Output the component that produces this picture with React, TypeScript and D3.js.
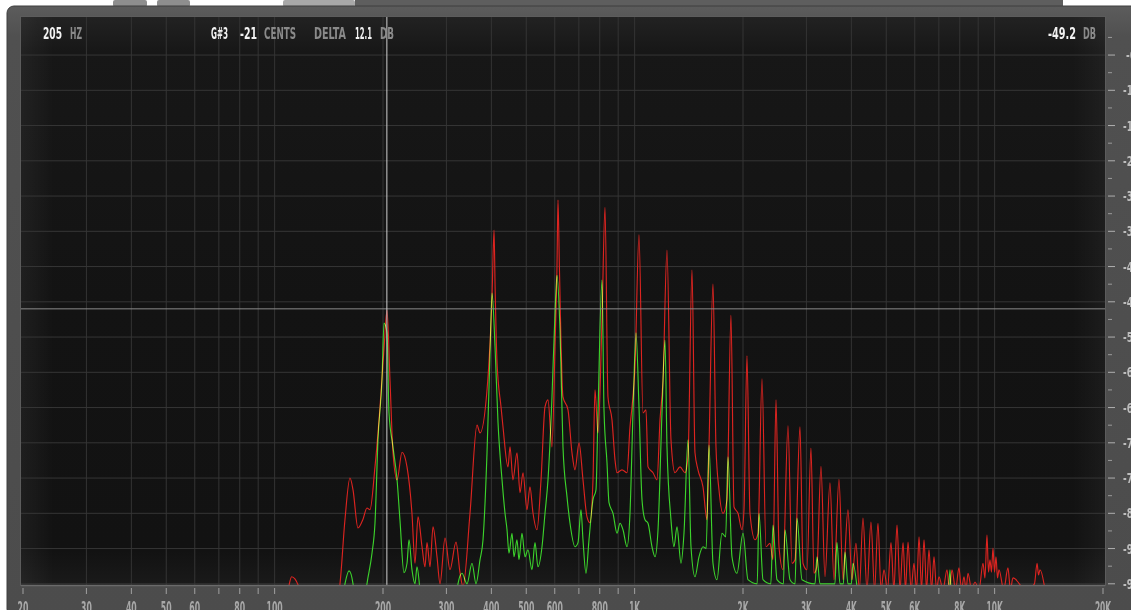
import React from "react";
import * as d3 from "d3";

// ---- data (frequency in Hz, level in dB) ----
const X_TICKS: number[] = [20, 30, 40, 50, 60, 70, 80, 90, 100, 200, 300, 400, 500, 600, 700, 800, 900, 1000, 2000, 3000, 4000, 5000, 6000, 7000, 8000, 9000, 10000, 20000];
const X_LABELS: [number, string][] = [
  [20, "20"], [30, "30"], [40, "40"], [50, "50"], [60, "60"], [80, "80"], [100, "100"],
  [200, "200"], [300, "300"], [400, "400"], [500, "500"], [600, "600"], [800, "800"],
  [1000, "1K"], [2000, "2K"], [3000, "3K"], [4000, "4K"], [5000, "5K"], [6000, "6K"],
  [8000, "8K"], [10000, "10K"], [20000, "20K"],
];
const GRID_FREQS: number[] = [30, 40, 50, 60, 70, 80, 90, 100, 200, 300, 400, 500, 600, 700, 800, 900, 1000, 2000, 3000, 4000, 5000, 6000, 7000, 8000, 9000, 10000];
const DB_MAJOR: number[] = [-6, -12, -18, -24, -30, -36, -42, -48, -54, -60, -66, -72, -78, -84, -90, -96];
const DB_MINOR: number[] = [-3, -9, -15, -21, -27, -33, -39, -45, -51, -57, -63, -69, -75, -81, -87, -93];

const CURSOR_HZ = 205;
const CURSOR_DB = -49.2;

// readout words: [text, x, width, bright]
const READOUT: [string, number, number, boolean][] = [
  ["205", 43, 19, true], ["HZ", 70, 12, false],
  ["G#3", 211, 17, true], ["-21", 240, 17, true], ["CENTS", 264, 32, false],
  ["DELTA", 314, 32, false], ["12.1", 355, 17, true], ["DB", 380, 14, false],
  ["-49.2", 1048, 28, true], ["DB", 1083, 13, false],
];

const RED: [number, number][] = [
  [20, -100], [104, -100], [108.9, -97], [111.5, -94.8], [114, -95.2], [117.6, -97], [122, -100],
  [148, -100], [151.9, -96], [156.8, -85.1], [161.9, -78], [165.1, -80], [170.4, -86.5], [176, -85],
  [180.5, -83.1], [184, -83.4], [190, -76.1], [196.2, -65.9], [201.3, -56], [205.2, -49.4], [209.2, -61.5],
  [213.2, -73.7], [218.8, -78.3], [225.9, -73.6], [233.2, -76.1], [240.7, -84], [245.4, -92.5], [250.2, -84.6],
  [256.7, -89.7], [261.6, -93.1], [265, -89], [270.2, -93.1], [275.4, -86.3], [282.5, -91.4], [288, -96],
  [297.4, -88.2], [307, -93.6], [319, -88.9], [327.3, -94.1], [333.6, -96.5], [348.9, -84], [364.9, -69],
  [372, -70.3], [389, -63], [401.7, -47], [406.9, -35.8], [409.5, -45], [414.8, -58.4], [425.5, -65.9],
  [430.9, -69.3], [444.9, -76.1], [450.6, -72.7], [459.3, -78.3], [471.2, -73.7], [480.4, -80.5],
  [489.7, -77.1], [502.3, -83.4], [512, -79.5], [521.9, -83.9], [535.5, -86.8], [549.5, -78.3],
  [563.7, -65.9], [574.6, -64.7], [589.4, -72.7], [600.9, -55.7], [608.6, -42], [612.5, -30.7], [618, -42],
  [632.4, -64.2], [653, -66.4], [669.9, -73.7], [683, -76.6], [700.7, -72], [718.7, -78.3], [737.4, -84.6],
  [751.6, -85.6], [766.2, -78.3], [776, -63], [791.1, -70.3], [811.6, -51.1], [827.4, -31.9], [843.3, -64.2],
  [865.2, -68.1], [882, -74.9], [893.4, -77.1], [922.4, -76.6], [952.3, -77.1], [970.8, -69.3], [983.3, -65.9],
  [1002.3, -59.1], [1028.3, -36.6], [1055, -66.9], [1075.4, -66.4], [1089.3, -76.1], [1124.8, -77.1],
  [1153.9, -78.3], [1176.3, -68.1], [1199, -61.3], [1230, -39.2], [1261.8, -71.5], [1294.4, -77.1],
  [1336.6, -76.1], [1380.1, -77.1], [1406.9, -74.4], [1443.3, -42.6], [1471.2, -73.7], [1499.7, -76.6],
  [1548.4, -79.5], [1588.5, -85.1], [1609, -72.7], [1650.6, -45], [1682.6, -72.7], [1715.1, -80],
  [1759.5, -84], [1805.2, -81.7], [1851.9, -50.3], [1888, -82.9], [1936.8, -84], [1987, -86.8],
  [2012.8, -83.4], [2051.6, -57.2], [2091.3, -84], [2159.6, -88.5], [2201.5, -87.4], [2258.5, -61.1],
  [2317, -89.7], [2376.9, -89.1], [2423, -91.9], [2470.1, -64.7], [2517.8, -89.7], [2583, -93.6],
  [2666.8, -69.1], [2735.7, -92.5], [2788.9, -91.9], [2879.5, -69.3], [2935.4, -92.5], [3011.3, -93.6],
  [3089.3, -72.9], [3149, -94.2], [3210, -93], [3293.1, -76], [3378.4, -94.8], [3488.3, -78.8],
  [3578.6, -95.3], [3695.2, -78.2], [3790.7, -95.3], [3914, -83.4], [4015.4, -95.3], [4119.3, -89.1],
  [4210, -97], [4308, -84.8], [4420, -97], [4534, -85.5], [4640, -97], [4742, -85.7], [4835, -97],
  [4928, -93.6], [5040, -97], [5154, -89], [5250, -97], [5356, -86], [5460, -97], [5567, -89], [5655, -97],
  [5747, -88.9], [5860, -97], [5970, -92.5], [6070, -97], [6166, -88], [6265, -97], [6366, -88.5],
  [6470, -97], [6572, -90.2], [6680, -97], [6786, -91.4], [6895, -97], [7006, -94.8], [7190, -97],
  [7374, -93.6], [7490, -97], [7613, -93.6], [7790, -97], [7961, -93.3], [8090, -97], [8221, -94.8],
  [8330, -97], [8434, -94.2], [8630, -97], [8820, -95.7], [9050, -97], [9283, -92.5], [9400, -95],
  [9523, -87.7], [9615, -94], [9707, -91.9], [9800, -94], [9896, -89.9], [9990, -94], [10088, -91.4],
  [10185, -95], [10283, -93.6], [10600, -97], [10891, -93.3], [11060, -97], [11246, -95], [12200, -97],
  [12900, -96], [13118, -92.5], [13240, -94.5], [13366, -93.6], [13714, -96], [14000, -100], [20000, -100],
];

const GREEN: [number, number][] = [
  [20, -100], [153, -100], [156.8, -96], [160.9, -93.8], [165.1, -96], [168, -100], [177, -100],
  [180.5, -96], [186.4, -90.8], [190, -85.7], [193.7, -71.5], [198.7, -61.3], [201.3, -51.6], [205.2, -53.3],
  [207.8, -66.9], [213.2, -72.7], [218.8, -78.3], [222.9, -85.1], [228.7, -94.1], [233.2, -92.5],
  [236.2, -88.5], [240.7, -93.6], [245.4, -96], [248.6, -93.1], [253.4, -97], [257, -100],
  [318, -100], [323.1, -96], [331.5, -94.2], [342.3, -96], [353.4, -92.5], [362.6, -96], [372, -91.9],
  [379.2, -88.5], [389, -73.7], [396.6, -56.7], [401.7, -46.5], [409.5, -55.7], [417.4, -68.6],
  [428.2, -78.3], [436.5, -84], [442.1, -86.8], [447.7, -90.8], [456.4, -87.4], [462.3, -91.4],
  [471.2, -88.5], [477.3, -91.9], [486.5, -87.4], [496, -91.4], [505.5, -90.2], [518.6, -93.6],
  [528.7, -89], [538.9, -93.1], [553, -89.7], [563.7, -84], [574.6, -78.3], [589.4, -64.2], [600.9, -49.9],
  [608.6, -43.5], [620.4, -52.8], [632.4, -72.7], [648.9, -81.2], [661.5, -85.7], [683, -89.7],
  [696.2, -89], [709.6, -83.4], [718.7, -88.5], [732.6, -94.2], [746.9, -88.5], [766.2, -81.7],
  [781, -80], [791.1, -66.9], [811.6, -44.3], [822.1, -66.4], [838, -75.4], [848.8, -82.2], [870.8, -84],
  [893.4, -87.4], [910.7, -85.7], [928.3, -86.8], [952.3, -89.7], [970.8, -84], [989.6, -66.9],
  [1008.8, -53.3], [1028.3, -65.9], [1048.3, -81.7], [1068.6, -85.1], [1089.3, -85.7], [1117.6, -89.7],
  [1139.3, -91.4], [1161.4, -86.8], [1191.3, -66.9], [1214.4, -54.5], [1230, -72.7], [1261.8, -85.1],
  [1286.2, -89.7], [1311.2, -86.3], [1345.2, -92.5], [1371.2, -87.4], [1406.9, -71.5], [1434.1, -89.7],
  [1471.2, -94.8], [1509.3, -91.4], [1548.4, -89.7], [1580, -90], [1609, -72.4], [1650.6, -92.5],
  [1693.4, -95.3], [1748.3, -87.4], [1790, -88], [1816.7, -74.4], [1863.7, -91.4], [1924.4, -94.2],
  [2000, -87.4], [2064.8, -95.3], [2190, -96], [2215.5, -84], [2273, -95.3], [2390, -96], [2423, -86],
  [2485.9, -95.3], [2590, -96], [2616.3, -86.8], [2701.2, -95.3], [2790, -96], [2824.8, -84.8],
  [2916.6, -95.3], [3170, -96], [3210.1, -91.4], [3272.1, -96], [3600, -96], [3648, -89], [3718.8, -96],
  [3800, -96], [3839.7, -90.6], [3914, -96], [4000, -96], [4041.2, -92.5], [4145.9, -96.5], [4200, -100],
  [7400, -100], [7516, -93.6], [7600, -100], [20000, -100],
];

const W = 1131;
const H = 610;
const PL = 21, PR = 1105, PT = 17, PB = 585;

const FONT = "'DejaVu Sans Condensed', 'Liberation Sans', sans-serif";

export default function App() {
  const x = d3.scaleLog().domain([20, 20000]).range([23, 1103]);
  const y = d3.scaleLinear().domain([0, -96]).range([19.8, 583.8]);
  const line = d3
    .line<[number, number]>()
    .x((d) => x(d[0]))
    .y((d) => y(d[1]))
    .curve(d3.curveMonotoneX);

  const cx = x(CURSOR_HZ);
  const cy = y(CURSOR_DB);

  return (
    <svg
      width={W}
      height={H}
      style={{ position: "fixed", left: 0, top: 0, display: "block", background: "#ffffff" }}
    >
      <defs>
        <linearGradient id="frameGrad" x1="0" y1="0" x2="0" y2="1">
          <stop offset="0" stopColor="#5c5c5c" />
          <stop offset="0.05" stopColor="#505050" />
          <stop offset="1" stopColor="#4c4c4c" />
        </linearGradient>
        <linearGradient id="plotV" x1="0" y1="0" x2="0" y2="1">
          <stop offset="0" stopColor="#222222" />
          <stop offset="0.06" stopColor="#171717" />
          <stop offset="0.5" stopColor="#131313" />
          <stop offset="0.94" stopColor="#121212" />
          <stop offset="1" stopColor="#1a1a1a" />
        </linearGradient>
        <linearGradient id="plotH" x1="0" y1="0" x2="1" y2="0">
          <stop offset="0" stopColor="#ffffff" stopOpacity="0.05" />
          <stop offset="0.03" stopColor="#ffffff" stopOpacity="0" />
          <stop offset="0.97" stopColor="#ffffff" stopOpacity="0" />
          <stop offset="1" stopColor="#ffffff" stopOpacity="0.04" />
        </linearGradient>
        <clipPath id="plotClip">
          <rect x={PL} y={PT} width={PR - PL} height={PB - PT} />
        </clipPath>
      </defs>

      {/* top strip tabs */}
      <rect x={355} y={0} width={708} height={8} fill="#5e5e5e" />
      <rect x={113} y={0} width={34} height={7} rx={2} fill="#8e8e8e" />
      <rect x={157} y={0} width={33} height={7} rx={2} fill="#8e8e8e" />
      <rect x={283} y={0} width={72} height={7} rx={2} fill="#a8a8a8" />

      {/* frame */}
      <rect x={7} y={6} width={W} height={H} rx={7} fill="url(#frameGrad)" stroke="#3e3e3e" strokeWidth={1} />

      {/* plot background */}
      <rect x={PL} y={PT} width={PR - PL} height={PB - PT} fill="url(#plotV)" />
      <rect x={PL} y={PT} width={PR - PL} height={PB - PT} fill="url(#plotH)" />

      <g clipPath="url(#plotClip)">
        {/* grid */}
        {GRID_FREQS.map((f) => (
          <line key={"gv" + f} x1={x(f)} x2={x(f)} y1={PT} y2={PB} stroke="#343434" strokeWidth={1} />
        ))}
        {DB_MAJOR.map((d) => (
          <line key={"gh" + d} x1={PL} x2={PR} y1={y(d)} y2={y(d)} stroke="#363636" strokeWidth={1} />
        ))}

        {/* spectra */}
        <g style={{ isolation: "isolate" }}>
          <path d={line(RED) || ""} fill="none" stroke="#dc2420" strokeWidth={1.15} style={{ mixBlendMode: "screen" }} />
          <path d={line(GREEN) || ""} fill="none" stroke="#3cd22c" strokeWidth={1.15} style={{ mixBlendMode: "screen" }} />
        </g>

        {/* cursor */}
        <line x1={PL} x2={PR} y1={cy} y2={cy} stroke="#8c8c8c" strokeWidth={1} />
        <line x1={cx} x2={cx} y1={PT} y2={PB} stroke="#cfcfcf" strokeWidth={1} />
      </g>

      {/* plot border */}
      <rect x={PL - 0.5} y={PT - 0.5} width={PR - PL + 1} height={PB - PT + 1} fill="none" stroke="#5c5c5c" strokeWidth={1} />
      <line x1={PL} x2={PR} y1={PB + 0.5} y2={PB + 0.5} stroke="#6a6a6a" strokeWidth={1.5} />

      {/* readouts */}
      <g fontFamily={FONT} fontWeight="bold" fontSize={15}>
        {READOUT.map(([s, tx, w, bright], i) => (
          <text
            key={"ro" + i}
            x={tx}
            y={39}
            textLength={w}
            lengthAdjust="spacingAndGlyphs"
            fill={bright ? "#f2f2f2" : "#8a8a8a"}
          >
            {s}
          </text>
        ))}
      </g>

      {/* bottom axis */}
      {X_TICKS.map((f) => (
        <line key={"bt" + f} x1={x(f)} x2={x(f)} y1={588} y2={594} stroke="#a0a0a0" strokeWidth={1} />
      ))}
      {X_LABELS.map(([f, s]) => {
        const w = s.length * 5.4;
        return (
          <text
            key={"bl" + f}
            x={x(f) - w / 2}
            y={614}
            textLength={w}
            lengthAdjust="spacingAndGlyphs"
            fontFamily={FONT}
            fontWeight="bold"
            fontSize={17}
            fill="#a8a8a8"
          >
            {s}
          </text>
        );
      })}

      {/* right axis */}
      {DB_MAJOR.map((d) => (
        <line key={"rt" + d} x1={1108} x2={1115} y1={y(d)} y2={y(d)} stroke="#b0b0b0" strokeWidth={1} />
      ))}
      {DB_MINOR.map((d) => (
        <line key={"rm" + d} x1={1108} x2={1112} y1={y(d)} y2={y(d)} stroke="#9a9a9a" strokeWidth={1} />
      ))}
      {DB_MAJOR.map((d) => {
        const s = String(d);
        const w = s.length === 2 ? 10 : 16;
        return (
          <text
            key={"rl" + d}
            x={1131 - w / 2}
            y={y(d) + 5}
            textLength={w}
            lengthAdjust="spacingAndGlyphs"
            fontFamily={FONT}
            fontWeight="bold"
            fontSize={14}
            fill="#bdbdbd"
          >
            {s}
          </text>
        );
      })}
    </svg>
  );
}
